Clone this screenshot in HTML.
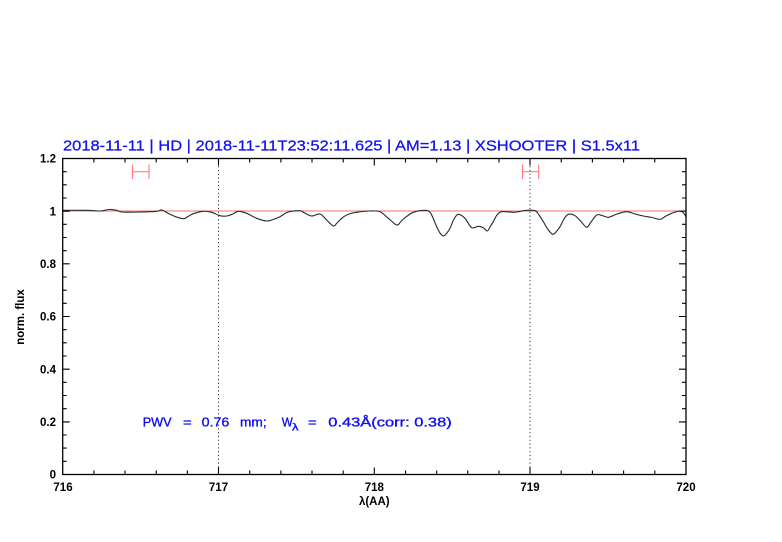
<!DOCTYPE html>
<html>
<head>
<meta charset="utf-8">
<style>
html,body{margin:0;padding:0;background:#fff;}
svg{display:block;}
text{font-family:"Liberation Sans","DejaVu Sans",sans-serif;}
</style>
</head>
<body>
<svg width="782" height="542" viewBox="0 0 782 542" xmlns="http://www.w3.org/2000/svg">
<rect width="782" height="542" fill="#fff"/>

<!-- title -->
<text x="63" y="150.5" font-size="15" fill="#1010f0" stroke="#1010f0" stroke-width="0.25" textLength="577" lengthAdjust="spacingAndGlyphs">2018-11-11 | HD | 2018-11-11T23:52:11.625 | AM=1.13 | XSHOOTER | S1.5x11</text>

<!-- reference line at 1 -->
<line x1="62.7" y1="211" x2="686" y2="211" stroke="#f07070" stroke-width="1"/>

<!-- dotted verticals -->
<line x1="218.5" y1="158.5" x2="218.5" y2="474.5" stroke="#333" stroke-width="1" stroke-dasharray="1.2,2.6"/>
<line x1="530" y1="158.5" x2="530" y2="474.5" stroke="#333" stroke-width="1" stroke-dasharray="1.2,2.6"/>

<!-- error bars -->
<g stroke="#ff8080" stroke-width="1.2" fill="none">
<line x1="132.5" y1="171.7" x2="149" y2="171.7"/>
<line x1="132.5" y1="164.5" x2="132.5" y2="179"/>
<line x1="149" y1="164.5" x2="149" y2="179"/>
<line x1="522.5" y1="171.7" x2="538.7" y2="171.7"/>
<line x1="522.5" y1="164.5" x2="522.5" y2="179"/>
<line x1="538.7" y1="164.5" x2="538.7" y2="179"/>
</g>

<!-- spectrum -->
<polyline id="spec" fill="none" stroke="#2a2a2a" stroke-width="1.1" stroke-linejoin="round" points="62.7,210.5 65,210.3 86.7,210.3 100,211 109.3,209.5 116.7,210.3 121.7,212 140,212 156.7,211.3 161.7,210 170,214.3 177,217.2 184,218.7 188,216.5 193.3,213.7 203.3,211.3 211.7,212.3 220,215.7 226.7,216 233.3,213.7 238.3,211.3 246.7,213.3 256.7,218.3 266.7,221 273,219.5 280,216.7 288.3,212 300,210.7 303.3,212.3 311.7,216 320,214 326.7,220 333.3,226 337,223 341.7,218.3 348.3,214.3 356.7,212.3 370,211 380,211.7 388.3,218.3 396.7,225 400.5,222 405,217.7 413.3,212.3 425,210.3 430,212.3 433,218 436.7,226.7 440,233 443.3,236 446.5,233.5 450,228.3 454,219 458.3,214.3 465,218.3 471.7,227.7 478.3,226.3 483.3,227.7 487.3,231 490,227 493.3,221.7 497,215 501.7,211.7 513.3,212.3 518.3,211.7 526.7,210.3 535,210.7 539,215 543.3,221.7 548,229.5 552.7,234.3 556,232 560,226.7 564,219 568.3,214.3 575,215.7 581,221.5 586.7,227.3 591,222 596.7,215 602,215.5 608.3,217.3 617,214 626.7,211.7 635,214 643.3,216 652,217.5 660,219.3 666,216 671.7,213.3 680,211 684,213.5 686,217"/>

<!-- axes box -->
<rect x="62.7" y="158.5" width="623.3" height="316" fill="none" stroke="#000" stroke-width="1.3"/>

<!-- ticks -->
<g stroke="#000" stroke-width="1.1">
<line x1="218.5" y1="474.5" x2="218.5" y2="467.5"/><line x1="374.3" y1="474.5" x2="374.3" y2="467.5"/><line x1="530" y1="474.5" x2="530" y2="467.5"/>
<line x1="218.5" y1="158.5" x2="218.5" y2="165.5"/><line x1="374.3" y1="158.5" x2="374.3" y2="165.5"/><line x1="530" y1="158.5" x2="530" y2="165.5"/>
<path d="M93.9 474.5v-4M125 474.5v-4M156.2 474.5v-4M187.4 474.5v-4M249.7 474.5v-4M280.9 474.5v-4M312 474.5v-4M343.2 474.5v-4M405.5 474.5v-4M436.7 474.5v-4M467.8 474.5v-4M499 474.5v-4M561.2 474.5v-4M592.4 474.5v-4M623.6 474.5v-4M654.8 474.5v-4"/>
<path d="M93.9 158.5v4M125 158.5v4M156.2 158.5v4M187.4 158.5v4M249.7 158.5v4M280.9 158.5v4M312 158.5v4M343.2 158.5v4M405.5 158.5v4M436.7 158.5v4M467.8 158.5v4M499 158.5v4M561.2 158.5v4M592.4 158.5v4M623.6 158.5v4M654.8 158.5v4"/>
<path d="M62.7 421.9h7M62.7 369.2h7M62.7 316.5h7M62.7 263.8h7M62.7 211.2h7"/>
<path d="M686 421.9h-7M686 369.2h-7M686 316.5h-7M686 263.8h-7M686 211.2h-7"/>
<path d="M62.7 461.3h4M62.7 448.1h4M62.7 435h4M62.7 408.7h4M62.7 395.5h4M62.7 382.3h4M62.7 356h4M62.7 342.8h4M62.7 329.7h4M62.7 303.3h4M62.7 290.2h4M62.7 277h4M62.7 250.7h4M62.7 237.5h4M62.7 224.3h4M62.7 198h4M62.7 184.8h4M62.7 171.7h4"/>
<path d="M686 461.3h-4M686 448.1h-4M686 435h-4M686 408.7h-4M686 395.5h-4M686 382.3h-4M686 356h-4M686 342.8h-4M686 329.7h-4M686 303.3h-4M686 290.2h-4M686 277h-4M686 250.7h-4M686 237.5h-4M686 224.3h-4M686 198h-4M686 184.8h-4M686 171.7h-4"/>
</g>

<!-- y tick labels -->
<g font-size="11.5" font-weight="bold" fill="#000" text-anchor="end">
<text x="56" y="478.5">0</text>
<text x="56" y="426">0.2</text>
<text x="56" y="373.3">0.4</text>
<text x="56" y="320.6">0.6</text>
<text x="56" y="268">0.8</text>
<text x="56" y="215.3">1</text>
<text x="56" y="162.6">1.2</text>
</g>

<!-- x tick labels -->
<g font-size="11.5" font-weight="bold" fill="#000" text-anchor="middle">
<text x="63" y="491">716</text>
<text x="218.5" y="491">717</text>
<text x="374.3" y="491">718</text>
<text x="530" y="491">719</text>
<text x="686" y="491">720</text>
</g>

<!-- axis titles -->
<text x="374.3" y="505" font-size="11.5" font-weight="bold" fill="#000" text-anchor="middle">λ(AA)</text>
<text transform="translate(24,317) rotate(-90)" font-size="11.5" font-weight="bold" fill="#000" text-anchor="middle">norm. flux</text>

<!-- PWV annotation -->
<g font-size="13" fill="#1010f0" stroke="#1010f0" stroke-width="0.35">
<text x="142.7" y="426.7" textLength="29" lengthAdjust="spacingAndGlyphs">PWV</text>
<text x="183" y="426.7" textLength="8.7" lengthAdjust="spacingAndGlyphs">=</text>
<text x="201.7" y="426.7" textLength="27.6" lengthAdjust="spacingAndGlyphs">0.76</text>
<text x="240" y="426.7" textLength="26.7" lengthAdjust="spacingAndGlyphs">mm;</text>
<text x="281.7" y="426.7" textLength="11" lengthAdjust="spacingAndGlyphs">W</text>
<text x="292" y="430.5" font-size="10" textLength="6.5" lengthAdjust="spacingAndGlyphs">λ</text>
<text x="308" y="426.7" textLength="8.7" lengthAdjust="spacingAndGlyphs">=</text>
<text x="328.3" y="426.7" textLength="123.4" lengthAdjust="spacingAndGlyphs">0.43Å(corr: 0.38)</text>
</g>
</svg>
<script>
(function(){
  var pl=document.getElementById('spec');
  if(!pl) return;
  var raw=pl.getAttribute('points').trim().split(/\s+/).map(function(s){var a=s.split(',');return [parseFloat(a[0]),parseFloat(a[1])];});
  var d='M'+raw[0][0]+' '+raw[0][1];
  for(var i=0;i<raw.length-1;i++){
    var p0=raw[i-1]||raw[i],p1=raw[i],p2=raw[i+1],p3=raw[i+2]||p2;
    var c1x=p1[0]+(p2[0]-p0[0])/6,c1y=p1[1]+(p2[1]-p0[1])/6;
    var c2x=p2[0]-(p3[0]-p1[0])/6,c2y=p2[1]-(p3[1]-p1[1])/6;
    d+='C'+c1x.toFixed(2)+' '+c1y.toFixed(2)+' '+c2x.toFixed(2)+' '+c2y.toFixed(2)+' '+p2[0]+' '+p2[1];
  }
  var path=document.createElementNS('http://www.w3.org/2000/svg','path');
  path.setAttribute('d',d);
  path.setAttribute('fill','none');
  path.setAttribute('stroke','#2a2a2a');
  path.setAttribute('stroke-width','1.1');
  pl.parentNode.replaceChild(path,pl);
})();
</script>
</body>
</html>
